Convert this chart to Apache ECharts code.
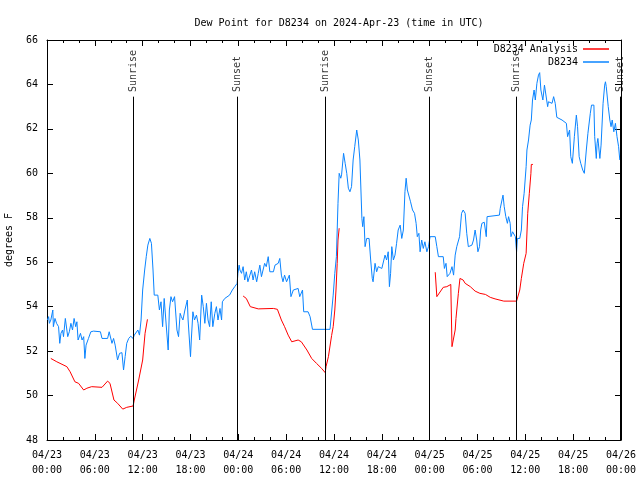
<!DOCTYPE html>
<html>
<head>
<meta charset="utf-8">
<script src="https://cdn.jsdelivr.net/npm/echarts@6/dist/echarts.min.js"></script>
<style>html,body{margin:0;padding:0;background:#fff}#c{width:640px;height:480px}</style>
</head>
<body>
<div id="c"></div>
<script>
// hours since 2024-04-23 00:00 UTC
var obsTime = [0.06,0.2,0.3,0.48,0.73,0.8,1.0,1.2,1.45,1.6,1.75,1.95,2.07,2.3,2.5,2.6,2.8,3.0,3.2,3.4,3.6,3.75,3.9,4.2,4.4,4.6,4.75,4.9,5.2,5.5,5.85,6.7,6.9,7.6,7.8,8.15,8.35,8.55,8.85,9.1,9.4,9.6,9.8,10.0,10.25,10.5,10.8,10.95,11.4,11.6,11.8,12.0,12.25,12.45,12.65,12.9,13.1,13.3,13.45,13.9,14.1,14.3,14.5,14.7,15.0,15.2,15.35,15.55,15.75,16.0,16.3,16.5,16.7,16.85,17.05,17.3,17.6,17.7,18.0,18.1,18.3,18.5,18.75,18.95,19.15,19.4,19.6,19.8,20.0,20.2,20.4,20.6,20.8,21.05,21.25,21.45,21.7,21.9,22.0,22.3,22.9,23.25,23.55,23.85,23.95,24.1,24.2,24.4,24.6,24.8,25.0,25.2,25.45,25.65,25.85,26.05,26.3,26.5,26.7,26.9,27.1,27.3,27.5,27.75,27.95,28.4,28.6,29.0,29.2,29.4,29.6,29.8,30.05,30.4,30.6,30.9,31.5,31.7,32.05,32.2,32.75,33.0,33.3,35.5,35.9,36.1,36.3,36.5,36.65,36.85,36.95,37.2,37.4,37.6,37.8,38.0,38.2,38.4,38.6,38.85,39.05,39.25,39.5,39.6,39.75,39.9,40.1,40.4,40.6,40.8,40.9,41.15,41.35,41.55,42.0,42.4,42.6,42.8,42.95,43.1,43.25,43.45,43.65,43.85,44.05,44.3,44.5,44.7,44.9,45.05,45.2,45.4,45.6,45.85,46.1,46.3,46.45,46.65,46.8,47.0,47.2,47.4,47.65,47.85,48.05,48.25,48.7,48.9,49.1,49.3,49.7,49.85,50.05,50.2,50.55,50.8,51.0,51.2,51.4,51.75,52.0,52.2,52.45,52.65,52.85,53.3,53.5,53.7,53.9,54.05,54.25,54.4,54.55,54.85,55.1,55.2,55.25,56.75,56.85,57.05,57.2,57.35,57.55,57.75,57.9,58.1,58.2,58.4,58.6,58.75,58.9,59.0,59.3,59.5,59.65,59.85,60.1,60.2,60.4,60.6,60.75,60.9,61.1,61.25,61.45,61.65,61.8,61.95,62.2,62.4,62.6,62.8,62.9,63.1,63.35,63.55,63.75,63.95,64.6,64.8,65.15,65.3,65.55,65.7,65.9,66.15,66.4,66.55,66.75,66.95,67.2,67.4,67.65,67.85,68.15,68.3,68.6,68.7,68.9,69.0,69.1,69.35,69.5,69.75,69.95,70.05,70.15,70.4,70.6,70.75,70.9,71.1,71.3,71.5,71.7,71.85];
var obsDew = [53.4,53.55,53.25,53.4,53.85,53.1,53.47,53.25,53.1,52.35,52.8,52.95,52.65,53.47,53.55,52.65,52.87,53.25,52.95,53.47,53.1,53.32,52.5,52.8,52.5,52.65,51.67,52.27,52.57,52.87,52.9,52.87,52.57,52.57,52.87,52.35,52.57,52.27,51.6,51.9,51.93,51.15,51.75,52.35,52.57,52.67,52.57,52.72,52.95,52.72,53.4,54.75,55.65,56.25,56.77,57.07,56.85,55.65,54.52,54.52,53.85,54.22,53.1,54.37,52.95,52.05,53.85,54.45,54.22,54.45,52.95,52.65,53.7,53.55,53.4,53.85,54.3,53.4,51.75,52.5,53.77,53.4,53.62,53.25,52.5,54.52,54.0,53.25,54.15,53.4,53.1,54.22,53.1,53.7,54.0,53.4,53.92,53.4,54.22,54.37,54.52,54.75,54.9,55.05,55.5,55.87,55.65,55.5,55.8,55.2,55.57,55.12,55.42,55.65,55.2,55.57,55.12,55.5,55.87,55.35,55.65,55.95,55.8,56.25,55.57,55.57,55.87,55.95,56.17,55.42,55.12,55.42,55.12,55.42,54.45,54.75,54.82,54.45,54.75,53.77,53.77,53.55,52.98,52.98,54.52,55.5,56.25,58.65,60.0,59.78,59.93,60.9,60.45,60.0,59.33,59.17,59.4,60.6,61.2,61.95,61.5,60.6,57.97,57.6,58.05,56.7,57.07,57.07,56.1,55.27,55.12,55.95,55.57,55.8,55.72,56.32,56.1,56.47,54.9,55.5,56.7,56.1,56.32,56.85,57.45,57.67,57.07,57.45,59.17,59.78,59.25,59.33,58.72,58.35,58.2,57.75,57.15,57.3,56.47,57.0,56.62,56.92,56.47,56.7,57.15,57.22,57.15,56.7,56.25,56.17,56.25,55.72,55.95,55.35,55.5,55.8,55.42,56.32,56.7,57.15,58.2,58.35,58.2,57.3,56.7,56.77,57.0,57.45,57.0,56.47,56.7,57.45,57.75,57.8,57.15,58.05,58.12,58.12,58.42,58.5,59.02,58.5,58.05,57.75,58.05,57.75,57.15,57.37,57.45,57.15,56.47,57.07,57.07,57.45,58.5,59.1,60.3,61.05,61.5,62.17,62.4,63.3,63.75,63.3,64.05,64.42,64.53,63.75,63.3,63.97,63.9,63.0,63.22,63.3,63.15,63.45,63.15,62.52,62.4,62.32,62.25,61.65,61.95,60.75,60.45,61.65,62.62,62.1,60.75,60.45,60.15,60.0,61.05,61.8,62.7,63.07,63.07,61.65,60.67,61.35,61.57,60.67,61.27,63.15,63.97,64.12,63.9,63.0,62.4,62.1,62.4,61.87,62.25,61.65,61.2,60.6];
// analysis (null = gap)
var anaTime = [0.48,1.23,2.49,2.9,3.5,3.96,4.6,5.0,5.6,6.9,7.6,7.9,8.4,8.86,9.5,10.0,10.8,10.95,11.5,11.7,12.0,12.3,12.6,18.0,24.6,25.0,25.5,26.5,28.4,28.9,29.4,29.8,30.25,30.7,31.5,31.9,32.6,33.2,33.8,34.45,34.9,35.0,35.3,35.7,35.9,36.1,36.25,36.4,36.5,36.65,42.0,48.7,48.9,49.1,49.7,50.15,50.65,50.8,51.0,51.2,51.3,51.6,51.8,52.2,52.45,53.1,53.7,54.3,55.0,55.6,56.2,57.3,58.9,59.0,59.3,59.5,59.8,60.1,60.3,60.5,60.7,60.75,60.95];
var anaDew = [51.67,51.52,51.3,51.07,50.62,50.55,50.25,50.33,50.4,50.37,50.65,50.55,49.8,49.65,49.39,49.47,49.53,49.8,50.7,50.73,51.6,52.8,53.43,null,54.48,54.37,54.0,53.9,53.92,53.88,53.4,53.1,52.72,52.42,52.5,52.42,52.05,51.67,51.45,51.22,51.03,51.3,51.75,52.7,53.1,53.85,54.75,55.95,57.0,57.53,null,55.55,54.45,54.52,54.87,54.9,55.0,52.2,52.2,52.95,53.47,54.6,55.27,55.2,55.05,54.9,54.7,54.6,54.55,54.42,54.35,54.25,54.25,54.3,54.75,55.27,55.95,56.4,58.2,59.1,60.0,60.4,60.4];
var eventTime = [10.78, 23.85, 34.86, 48.0, 58.9, 71.93];
var eventName = ['Sunrise','Sunset','Sunrise','Sunset','Sunrise','Sunset'];
var yTicks = [48,50,52,54,56,58,60,62,64,66];

var FONT = 'DejaVu Sans Mono';
function zip(a,b){var r=[];for(var i=0;i<a.length;i++){r.push([a[i],b[i]]);}return r;}
var obsData = zip(obsTime, obsDew);
var anaData = zip(anaTime, anaDew);
var lineTop = 63.45, labelBase = 63.66;
var mlData = eventTime.map(function(t){return [{coord:[t,48]},{coord:[t,lineTop]}];});
var evData = eventTime.map(function(t,i){return {value:[t,labelBase], name:eventName[i]};});

function xFmt(v){
  var d = 23 + Math.floor(v/24);
  var h = v % 24;
  return '04/' + d + '\n' + (h<10?'0':'') + h + ':00';
}
var tickStyle = {show:true, inside:true, length:6, lineStyle:{color:'#000', width:1}};
var minorStyle = {show:true, splitNumber:3, length:3, lineStyle:{color:'#000', width:1}};
var axLine = {show:true, onZero:false, lineStyle:{color:'#000', width:1}};

var chart = echarts.init(document.getElementById('c'), null, {renderer:'canvas'});
chart.setOption({
  animation:false,
  backgroundColor:'#fff',
  textStyle:{fontFamily:FONT},
  title:{text:'Dew Point for D8234 on 2024-Apr-23 (time in UTC)', left:334, top:13, textAlign:'center',
         textStyle:{fontFamily:FONT, fontSize:10, fontWeight:'normal', color:'#000'}},
  legend:[
    {data:['D8234 Analysis'], right:31, top:44, orient:'vertical', align:'right', icon:'rect', itemWidth:26, itemHeight:1.5, itemGap:2, padding:0,
     textStyle:{fontFamily:FONT, fontSize:10, color:'#000'}, selectedMode:false},
    {data:['D8234'], right:31, top:57, orient:'vertical', align:'right', icon:'rect', itemWidth:26, itemHeight:1.5, itemGap:2, padding:0,
     textStyle:{fontFamily:FONT, fontSize:10, color:'#000'}, selectedMode:false}
  ],
  grid:{left:47, right:19, top:40, bottom:40, containLabel:false, outerBoundsMode:'none'},
  xAxis:[
    {type:'value', min:0, max:72, interval:6, position:'bottom', axisLine:axLine, axisTick:tickStyle, minorTick:minorStyle,
     splitLine:{show:false}, minorSplitLine:{show:false},
     axisLabel:{formatter:xFmt, color:'#000', fontFamily:FONT, fontSize:10, lineHeight:15, margin:8, showMinLabel:true, showMaxLabel:true}},
    {type:'value', min:0, max:72, interval:6, position:'top', axisLine:axLine, axisTick:tickStyle, minorTick:minorStyle,
     splitLine:{show:false}, axisLabel:{show:false}}
  ],
  yAxis:[
    {type:'value', min:48, max:66, interval:2, position:'left', axisLine:axLine, axisTick:tickStyle, splitLine:{show:false},
     name:'degrees F', nameLocation:'middle', nameGap:33, nameRotate:90,
     nameTextStyle:{fontFamily:FONT, fontSize:10, color:'#000'},
     axisLabel:{color:'#000', fontFamily:FONT, fontSize:10, margin:9, showMinLabel:true, showMaxLabel:true}},
    {type:'value', min:48, max:66, interval:2, position:'right', axisLine:axLine, axisTick:tickStyle, splitLine:{show:false}, axisLabel:{show:false}}
  ],
  series:[
    {name:'D8234 Analysis', type:'line', data:anaData, showSymbol:false, symbol:'none', connectNulls:false,
     lineStyle:{color:'#ff0000', width:1}, itemStyle:{color:'#ff0000'}, z:2},
    {name:'D8234', type:'line', data:obsData, showSymbol:false, symbol:'none',
     lineStyle:{color:'#0a84ff', width:1}, itemStyle:{color:'#0a84ff'}, z:3},
    {name:'events', type:'scatter', data:evData, symbolSize:1, itemStyle:{color:'rgba(0,0,0,0)'}, clip:false, silent:true, z:4,
     label:{show:true, formatter:function(p){return p.name;}, position:'inside', align:'left', verticalAlign:'middle', rotate:90,
            color:'#000', fontFamily:FONT, fontSize:10},
     markLine:{silent:true, symbol:['none','none'], label:{show:false}, lineStyle:{color:'#000', width:1, type:'solid'}, data:mlData}}
  ]
});
</script>
</body>
</html>
